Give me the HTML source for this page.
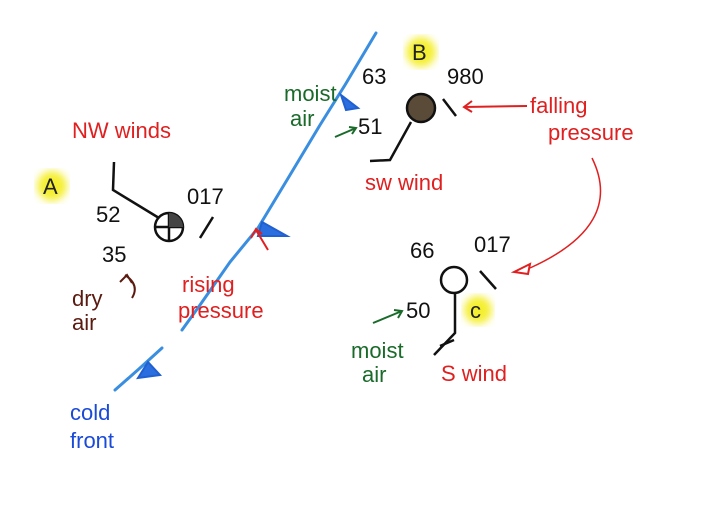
<!DOCTYPE html>
<html><head><style>
html,body{margin:0;padding:0;background:#fff;}
svg{display:block}
text{font-family:"Liberation Sans",sans-serif;font-size:22px}
</style></head><body>
<svg width="704" height="512" viewBox="0 0 704 512">
<defs><filter id="b"><feGaussianBlur stdDeviation="4"/></filter></defs>
<!-- highlights -->
<circle cx="52" cy="186" r="15" fill="#f5ef30" filter="url(#b)"/>
<circle cx="421" cy="52" r="15" fill="#f5ef30" filter="url(#b)"/>
<circle cx="478" cy="310" r="14" fill="#f5ef30" filter="url(#b)"/>
<text x="43" y="194" fill="#222">A</text>
<text x="412" y="60" fill="#222">B</text>
<text x="470" y="318" fill="#222" font-size="20">c</text>
<!-- cold front -->
<g stroke="#3a8ee0" stroke-width="3" fill="none" stroke-linecap="round">
<polyline points="376,33 345,85 320,125 290,175 258,228 230,262 200,305 182,330"/>
<polyline points="162,348 140,368 115,390"/>
</g>
<g fill="#2a6ee0" stroke="#2060d0" stroke-width="2">
<polygon points="341,95 346,110 358,108"/>
<polygon points="262,222 258,236 287,236"/>
<polygon points="148,362 138,378 160,375"/>
</g>
<text x="70" y="420" fill="#1a4ad8">cold</text>
<text x="70" y="448" fill="#1a4ad8">front</text>
<!-- Station A -->
<text x="72" y="138" fill="#e02020" font-size="20">NW winds</text>
<g stroke="#111" stroke-width="2.5" fill="none">
<polyline points="114,162 113,190 159,218"/>
<circle cx="169" cy="227" r="14" fill="#fff"/>
<line x1="169" y1="213" x2="169" y2="241"/>
<line x1="155" y1="227" x2="183" y2="227"/>
<line x1="200" y1="238" x2="213" y2="217"/>
</g>
<path d="M169,213 A14,14 0 0 1 183,227 L169,227Z" fill="#444"/>
<text x="96" y="222" fill="#111">52</text>
<text x="102" y="262" fill="#111">35</text>
<text x="187" y="204" fill="#111">017</text>
<path d="M268,250 L256,230 M251,238 L256,229 L262,234" stroke="#e02020" stroke-width="2" fill="none"/>
<text x="182" y="292" fill="#e02020">rising</text>
<text x="178" y="318" fill="#e02020">pressure</text>
<text x="72" y="306" fill="#5a1a10">dry</text>
<text x="72" y="330" fill="#5a1a10">air</text>
<path d="M125,275 Q140,285 132,298 M120,282 L127,275 L132,283" stroke="#5a1a10" stroke-width="2" fill="none"/>
<!-- Station B -->
<circle cx="421" cy="108" r="14" fill="#5a4a38" stroke="#111" stroke-width="2.5"/>
<g stroke="#111" stroke-width="2.5" fill="none">
<polyline points="411,122 390,160 370,161"/>
<line x1="443" y1="99" x2="456" y2="116"/>
</g>
<text x="362" y="84" fill="#111">63</text>
<text x="447" y="84" fill="#111">980</text>
<text x="365" y="190" fill="#e02020">sw wind</text>
<path d="M527,106 L464,107 M472,101 L464,107 L472,112" stroke="#e02020" stroke-width="2" fill="none"/>
<text x="530" y="113" fill="#e02020">falling</text>
<text x="548" y="140" fill="#e02020">pressure</text>
<path d="M592,158 Q625,225 530,268" stroke="#e02020" stroke-width="1.5" fill="none"/>
<polygon points="514,272 530,264 528,274" fill="none" stroke="#e02020" stroke-width="2"/>
<text x="284" y="101" fill="#1a6a2a">moist</text>
<text x="290" y="126" fill="#1a6a2a">air</text>
<path d="M335,137 L356,128 M349,127 L356,128 L352,134" stroke="#1a6a2a" stroke-width="2" fill="none"/>
<text x="358" y="134" fill="#111">51</text>
<!-- Station C -->
<g stroke="#111" stroke-width="2.5" fill="none">
<circle cx="454" cy="280" r="13" fill="#fff"/>
<polyline points="455,293 455,333 434,355"/>
<line x1="440" y1="346" x2="454" y2="340"/>
<line x1="480" y1="271" x2="496" y2="289"/>
</g>
<text x="410" y="258" fill="#111">66</text>
<text x="474" y="252" fill="#111">017</text>
<text x="406" y="318" fill="#111">50</text>
<path d="M373,323 L402,311 M394,310 L402,311 L398,318" stroke="#1a6a2a" stroke-width="2" fill="none"/>
<text x="351" y="358" fill="#1a6a2a">moist</text>
<text x="362" y="382" fill="#1a6a2a">air</text>
<text x="441" y="381" fill="#e02020">S wind</text>
</svg>
</body></html>
